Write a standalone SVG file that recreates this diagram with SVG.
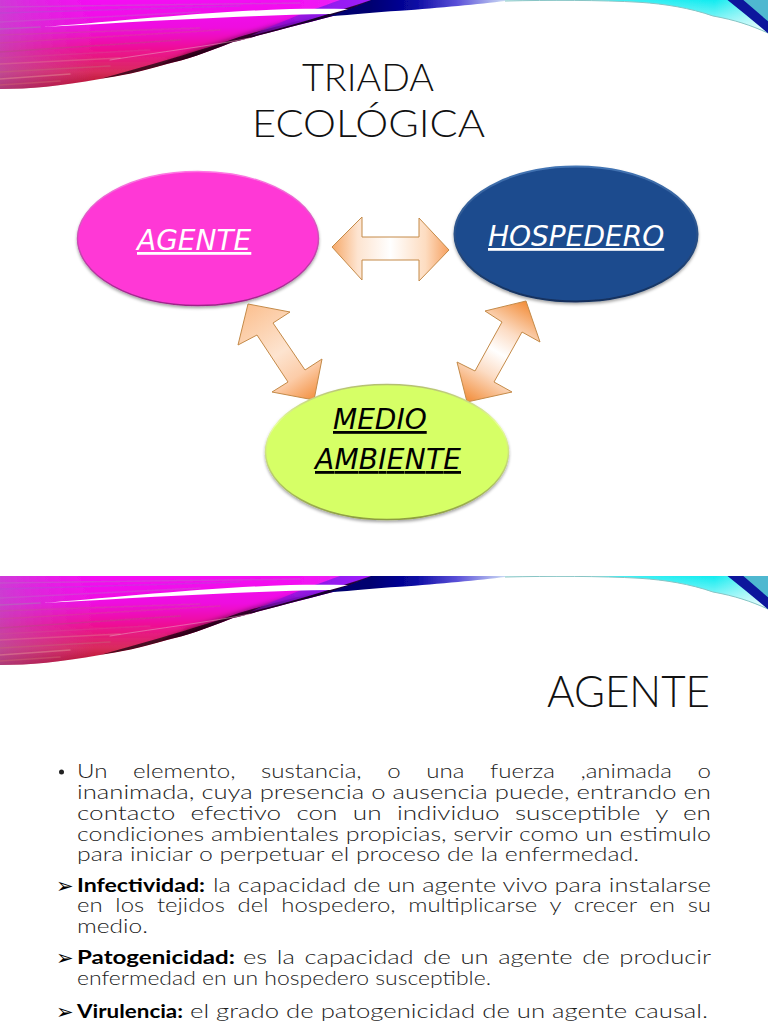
<svg xmlns="http://www.w3.org/2000/svg" xmlns:xlink="http://www.w3.org/1999/xlink" width="768" height="1024" viewBox="0 0 768 1024">
<style>
.title{font-family:"Lato","Liberation Sans",sans-serif;font-weight:300;fill:#111}
.lbl{font-family:"DejaVu Sans","Liberation Sans",sans-serif;font-style:italic;font-size:28px;text-decoration:underline}
.b{font-family:"Lato","Liberation Sans",sans-serif;font-size:19px;font-weight:300;fill:#1c1c1c}
.s{font-family:"Lato","Liberation Sans",sans-serif;font-size:19px;font-weight:700;fill:#000}
.m{font-family:"DejaVu Sans",sans-serif;font-size:21px;fill:#000}
.arrow{stroke:#c48a48;stroke-width:1}
.st{fill:none;stroke-linecap:round}
</style>
<defs>
<linearGradient id="bg" gradientUnits="userSpaceOnUse" x1="0" y1="0" x2="0" y2="90">
<stop offset="0" stop-color="#f40cf4"/><stop offset=".3" stop-color="#ee10e0"/><stop offset=".55" stop-color="#ee1094"/><stop offset=".8" stop-color="#d82c5c"/><stop offset="1" stop-color="#a80a1c"/>
</linearGradient>
<linearGradient id="bgl" gradientUnits="userSpaceOnUse" x1="0" y1="0" x2="380" y2="0">
<stop offset="0" stop-color="#b060c0" stop-opacity=".55"/><stop offset=".25" stop-color="#d040d0" stop-opacity="0"/><stop offset=".7" stop-color="#ff00ff" stop-opacity="0"/><stop offset="1" stop-color="#d060f0" stop-opacity=".85"/>
</linearGradient>
<linearGradient id="dk" gradientUnits="userSpaceOnUse" x1="50" y1="0" x2="400" y2="0">
<stop offset="0" stop-color="#a00010" stop-opacity="0"/><stop offset=".2" stop-color="#900010" stop-opacity=".9"/><stop offset=".45" stop-color="#200008"/><stop offset=".62" stop-color="#10002a"/><stop offset=".8" stop-color="#00006a"/><stop offset="1" stop-color="#000080"/>
</linearGradient>
<linearGradient id="pf" gradientUnits="userSpaceOnUse" x1="200" y1="0" x2="370" y2="0">
<stop offset="0" stop-color="#8000c0" stop-opacity="0"/><stop offset=".7" stop-color="#9018e8"/><stop offset="1" stop-color="#a020ff"/>
</linearGradient>
<linearGradient id="nv" gradientUnits="userSpaceOnUse" x1="370" y1="0" x2="515" y2="0">
<stop offset="0" stop-color="#000070"/><stop offset=".3" stop-color="#0808a0"/><stop offset=".6" stop-color="#5a50d8"/><stop offset=".85" stop-color="#b0b8ee"/><stop offset="1" stop-color="#d8f4f8"/>
</linearGradient>
<linearGradient id="cy" gradientUnits="userSpaceOnUse" x1="500" y1="0" x2="768" y2="0">
<stop offset="0" stop-color="#e0f8f8"/><stop offset=".45" stop-color="#40f0f4"/><stop offset=".8" stop-color="#10ecf0"/><stop offset="1" stop-color="#a0f4f4"/>
</linearGradient>
<linearGradient id="cyf" gradientUnits="userSpaceOnUse" x1="0" y1="0" x2="0" y2="30">
<stop offset="0" stop-color="#fff" stop-opacity="0"/><stop offset="1" stop-color="#fff" stop-opacity=".75"/>
</linearGradient>
<linearGradient id="ah" x1="0" y1="0" x2="1" y2="0">
<stop offset="0" stop-color="#f6a868"/><stop offset=".22" stop-color="#fde4d0"/><stop offset=".5" stop-color="#fff"/><stop offset=".8" stop-color="#fddcc0"/><stop offset="1" stop-color="#f6a060"/>
</linearGradient>
<linearGradient id="al" gradientUnits="userSpaceOnUse" x1="248" y1="304" x2="314" y2="400">
<stop offset="0" stop-color="#fbc090"/><stop offset=".5" stop-color="#fde4d0"/><stop offset=".75" stop-color="#fccca8"/><stop offset="1" stop-color="#f39040"/>
</linearGradient>
<linearGradient id="ar" gradientUnits="userSpaceOnUse" x1="526" y1="301" x2="467" y2="402">
<stop offset="0" stop-color="#f28c38"/><stop offset=".3" stop-color="#fcdcc4"/><stop offset=".5" stop-color="#fff"/><stop offset=".7" stop-color="#fcdcc4"/><stop offset="1" stop-color="#f28c38"/>
</linearGradient>
<linearGradient id="rm" x1="0" y1="0" x2="0" y2="1"><stop offset="0" stop-color="#ff78e4"/><stop offset="1" stop-color="#9c2488"/></linearGradient>
<linearGradient id="rb" x1="0" y1="0" x2="0" y2="1"><stop offset="0" stop-color="#4274b4"/><stop offset="1" stop-color="#122f5c"/></linearGradient>
<linearGradient id="rl" x1="0" y1="0" x2="0" y2="1"><stop offset="0" stop-color="#b4c070"/><stop offset=".3" stop-color="#e8ff9c"/><stop offset="1" stop-color="#8c9c40"/></linearGradient>
<filter id="sh" x="-10%" y="-10%" width="120%" height="125%"><feDropShadow dx="0" dy="2" stdDeviation="1.5" flood-color="#000" flood-opacity=".35"/></filter>
<filter id="soft" x="-5%" y="-5%" width="110%" height="110%"><feGaussianBlur stdDeviation=".5"/></filter>
<filter id="sf2" filterUnits="userSpaceOnUse" x="0" y="-20" width="450" height="130"><feGaussianBlur stdDeviation="3"/></filter>
<clipPath id="bc"><rect x="0" y="0" width="768" height="100"/></clipPath>
<clipPath id="bs"><path d="M0 -2H380L333 16C290 27 250 38 233 42C205 53 185 60 167 64C140 72 120 76 100 79C60 86 30 89 0 89Z"/></clipPath>
<g id="banner" clip-path="url(#bc)">
<g filter="url(#soft)">
<path d="M0 -2H380L333 16C290 27 250 38 233 42C205 53 185 60 167 64C140 72 120 76 100 79C60 86 30 89 0 89Z" fill="url(#bg)"/>
<path d="M0 -2H380L333 16C290 27 250 38 233 42C205 53 185 60 167 64C140 72 120 76 100 79C60 86 30 89 0 89Z" fill="url(#bgl)"/>
<g class="st" stroke-width="1.5">
<path d="M0 7L300 3" stroke="#c060c8" opacity=".5"/><path d="M0 13L240 6" stroke="#b050d0" opacity=".45"/>
<path d="M0 22L200 12" stroke="#c060c8" opacity=".45"/><path d="M0 29L40 27" stroke="#b070b8" opacity=".6"/>
<path d="M0 35L200 28" stroke="#c8509c" opacity=".4"/><path d="M0 43L220 30" stroke="#d04890" opacity=".4"/>
<path d="M0 52L180 40" stroke="#b84a80" opacity=".45"/><path d="M0 58L150 50" stroke="#d05090" opacity=".35"/>
<path d="M0 64L120 58" stroke="#e07090" opacity=".5"/><path d="M0 72L110 66" stroke="#c86078" opacity=".5"/>
<path d="M0 79L70 74" stroke="#e08090" opacity=".6"/><path d="M0 85L60 81" stroke="#d06070" opacity=".5"/>
</g>
<g clip-path="url(#bs)">
<path d="M60 92C110 85 150 72 190 54C230 42 280 24 377 0H420L333 22C290 33 250 44 233 48C205 59 185 66 167 70C140 78 120 82 100 85C85 88 70 90 60 92Z" fill="url(#dk)" filter="url(#sf2)"/>
<path d="M100 79C120 76 140 72 167 64C185 60 205 53 233 42C250 38 290 27 333 16L380 -2H372L325 14C280 26 245 34 225 42C200 50 180 56 160 62C140 68 120 73 100 79Z" fill="#10000c" opacity=".7"/>
</g>
<path d="M250 36C290 26 330 14 377 -2L340 0C300 14 280 22 250 36Z" fill="url(#pf)"/>
<path d="M330 16C345 11 362 5 377 -2H400L333 16Z" fill="#000078"/>
<path d="M110 60C160 52 210 46 250 38" class="st" stroke="#e8a0c0" stroke-width="1" opacity=".55"/>
<path d="M43 27C100 23 200 12 290 9C310 8.500 330 8.500 348 9L330 14C250 15 150 21 43 27Z" fill="#fff"/>
<path d="M377 -2H515L505 1C480 4 440 8 400 10.700C375 12 350 15 333 16Z" fill="url(#nv)"/>
<path d="M505 -2H768V33C750 25 735 20 713 16C690 8 665 4 640 2.300C600 0 550 0 505 1Z" fill="url(#cy)"/>
<path d="M505 -2H768V33C750 25 735 20 713 16C690 8 665 4 640 2.300C600 0 550 0 505 1Z" fill="url(#cyf)"/>
<path d="M505 1C550 0 600 0 640 2.300C665 4 690 8 713 16C735 20 750 25 768 33" fill="none" stroke="#88c4c4" stroke-width="1"/>
<path d="M738 -2H770V24Z" fill="#50b8d0"/>
<path d="M725 -2H741L770 23V35C755 22 740 10 725 -2Z" fill="#08189c"/>
</g>
</g>
</defs>

<rect width="768" height="1024" fill="#fff"/>
<use href="#banner" xlink:href="#banner"/>
<use href="#banner" xlink:href="#banner" y="576"/>

<g id="title1">
<text class="title" x="302" y="91" font-size="38" textLength="132" lengthAdjust="spacingAndGlyphs">TRIADA</text>
<text class="title" x="252" y="137" font-size="38" textLength="233" lengthAdjust="spacingAndGlyphs">ECOLÓGICA</text>
</g>

<g id="connectors">
<path class="arrow" fill="url(#ah)" d="M332 247L362 217V237H419V218L449 250L419 281V260H362V280Z"/>
<path class="arrow" fill="url(#al)" d="M248 304L290 312L273 323L305 370L322 359L314 400L272 392L288 382L257 335L238 345Z"/>
<path class="arrow" fill="url(#ar)" d="M526 301L540 342L522 332L494 382L512 392L467 402L457 362L475 371L502 322L485 311Z"/>
</g>

<g id="agente">
<ellipse cx="198" cy="238.500" rx="120.500" ry="67" fill="#ff38d6" stroke="url(#rm)" stroke-width="1.500" filter="url(#sh)"/>
<text class="lbl" x="137" y="250" fill="#fff">AGENTE</text>
</g>
<g id="hospedero">
<ellipse cx="576" cy="234" rx="121.500" ry="67.500" fill="#1f4b8e" stroke="url(#rb)" stroke-width="2" filter="url(#sh)"/>
<text class="lbl" x="488" y="246" fill="#fff">HOSPEDERO</text>
</g>
<g id="medio-ambiente">
<ellipse cx="387" cy="452" rx="121.500" ry="67.500" fill="#d6ff66" stroke="url(#rl)" stroke-width="1.500" filter="url(#sh)"/>
<text class="lbl" x="333" y="429" fill="#000">MEDIO</text>
<text class="lbl" x="315" y="469" fill="#000" textLength="146">AMBIENTE</text>
</g>

<g id="slide2">
<text class="title" x="547" y="707" font-size="44" textLength="163" lengthAdjust="spacingAndGlyphs">AGENTE</text>
<circle cx="61.500" cy="772" r="2.500" fill="#222"/>
<text class="b" x="77" y="778.200" textLength="634" lengthAdjust="spacingAndGlyphs" word-spacing="15">Un elemento, sustancia, o una fuerza ,animada o</text>
<text class="b" x="77" y="799" textLength="634" lengthAdjust="spacingAndGlyphs">inanimada, cuya presencia o ausencia puede, entrando en</text>
<text class="b" x="77" y="819.800" textLength="634" lengthAdjust="spacingAndGlyphs" word-spacing="6">contacto efectivo con un individuo susceptible y en</text>
<text class="b" x="77" y="840.600" textLength="634" lengthAdjust="spacingAndGlyphs">condiciones ambientales propicias, servir como un estimulo</text>
<text class="b" x="77" y="861.400" textLength="562" lengthAdjust="spacingAndGlyphs">para iniciar o perpetuar el proceso de la enfermedad.</text>
<text class="m" x="56" y="893">➢</text>
<text class="s" x="77" y="891.500" textLength="128" lengthAdjust="spacingAndGlyphs">Infectividad:</text>
<text class="b" x="213" y="891.500" textLength="498" lengthAdjust="spacingAndGlyphs">la capacidad de un agente vivo para instalarse</text>
<text class="b" x="77" y="912.300" textLength="634" lengthAdjust="spacingAndGlyphs" word-spacing="5">en los tejidos del hospedero, multiplicarse y crecer en su</text>
<text class="b" x="77" y="933.100" textLength="71" lengthAdjust="spacingAndGlyphs">medio.</text>
<text class="m" x="56" y="965">➢</text>
<text class="s" x="77" y="964" textLength="158" lengthAdjust="spacingAndGlyphs">Patogenicidad:</text>
<text class="b" x="243" y="964" textLength="468" lengthAdjust="spacingAndGlyphs" word-spacing="2">es la capacidad de un agente de producir</text>
<text class="b" x="77" y="985" textLength="414" lengthAdjust="spacingAndGlyphs">enfermedad en un hospedero susceptible.</text>
<text class="m" x="56" y="1019">➢</text>
<text class="s" x="77" y="1018" textLength="106" lengthAdjust="spacingAndGlyphs">Virulencia:</text>
<text class="b" x="190" y="1018" textLength="518" lengthAdjust="spacingAndGlyphs">el grado de patogenicidad de un agente causal.</text>
</g>
</svg>
